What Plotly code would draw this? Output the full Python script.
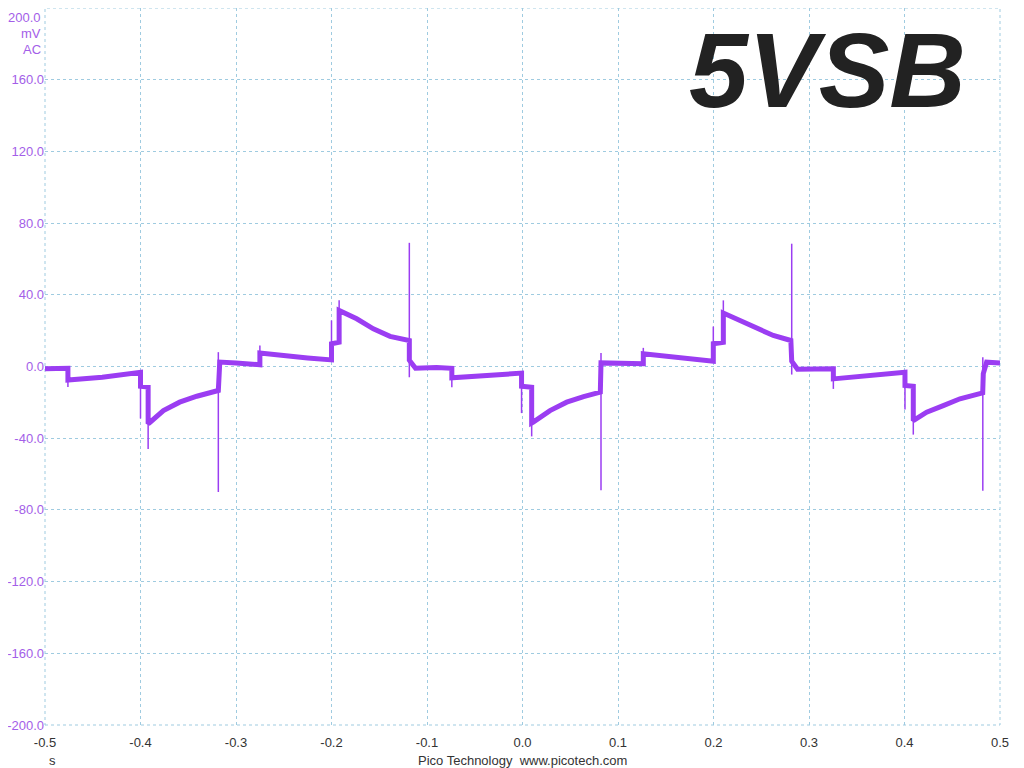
import plotly.graph_objects as go

# ---- data (time in s, voltage in mV) ----
body_t = [-0.5, -0.476, -0.476, -0.44, -0.40,
          -0.40, -0.392, -0.392, -0.390, -0.376, -0.359, -0.341, -0.3185,
          -0.317, -0.30, -0.285, -0.275,
          -0.275, -0.25, -0.225, -0.200,
          -0.200, -0.192, -0.192, -0.1736, -0.1562, -0.1387, -0.1185,
          -0.1185, -0.112, -0.09, -0.074,
          -0.074, -0.04, -0.001,
          -0.001, 0.0096, 0.0096, 0.0113, 0.0288, 0.0463, 0.064, 0.0815,
          0.0822, 0.10, 0.1265,
          0.1265, 0.15, 0.175, 0.1998,
          0.1998, 0.2103, 0.2103, 0.2277, 0.2452, 0.2626, 0.281,
          0.2819, 0.288, 0.31, 0.3255,
          0.3255, 0.36, 0.4005,
          0.4005, 0.4092, 0.4092, 0.4232, 0.4406, 0.4581, 0.4819,
          0.4825, 0.486, 0.5]
body_v = [-1.3, -1.0, -7.5, -6.0, -3.2,
          -11.0, -11.5, -32.0, -31.1, -24.6, -19.9, -16.6, -13.4,
          2.5, 2.0, 1.5, 1.0,
          7.5, 6.0, 4.8, 3.7,
          12.7, 13.5, 31.3, 26.6, 21.0, 16.8, 14.5,
          3.5, -1.0, -0.5, -1.0,
          -6.3, -5.0, -3.7,
          -11.0, -11.6, -31.5, -31.0, -24.6, -19.9, -16.8, -14.3,
          2.0, 2.0, 1.5,
          7.1, 5.8, 4.5, 3.0,
          12.7, 13.5, 29.8, 25.7, 21.0, 17.3, 14.5,
          3.0, -1.5, -1.0, -1.3,
          -6.9, -5.0, -3.2,
          -10.6, -11.0, -30.2, -25.5, -21.8, -18.0, -14.7,
          -4.0, 2.4, 2.0]

spike_t = [-0.476, -0.400, -0.392, -0.3185, -0.275, -0.200, -0.192, -0.1185,
           -0.074, -0.001, 0.0096, 0.0822, 0.1265, 0.1998, 0.2103, 0.2819,
           0.3255, 0.4005, 0.4092, 0.4820]
spike_lo = [-11.5, -29.0, -46.0, -70.0, 1.0, 3.7, 13.5, -6.0,
            -11.6, -26.0, -39.0, -69.0, 1.5, 3.0, 13.5, -4.5,
            -12.5, -24.0, -38.0, -69.3]
spike_hi = [-1.0, -3.2, -11.5, 8.0, 11.7, 25.7, 36.9, 69.0,
            -1.0, -3.7, -11.6, 7.6, 10.4, 22.3, 36.9, 68.5,
            -1.3, -3.2, -11.0, 5.2]

x_ticks = [-0.5, -0.4, -0.3, -0.2, -0.1, 0.0, 0.1, 0.2, 0.3, 0.4, 0.5]
y_ticks = [-200, -160, -120, -80, -40, 0, 40, 80, 120, 160, 200]
y_top_label = "200.0"

TRACE = "#9b3df2"
LABEL = "#a35ee8"
GRID = "#9fcbe0"

# build spike segments (None-separated vertical lines)
sx, sy = [], []
for t, lo, hi in zip(spike_t, spike_lo, spike_hi):
    sx += [t, t, None]
    sy += [lo, hi, None]

# top label drawn separately (so it is not clipped at the page edge)
y_ticktext = [f"{v:.1f}" if v != 200 else "" for v in y_ticks]

fig = go.Figure()
fig.add_trace(go.Scatter(x=body_t, y=body_v, mode="lines",
                         line=dict(color=TRACE, width=5), hoverinfo="skip"))
fig.add_trace(go.Scatter(x=sx, y=sy, mode="lines",
                         line=dict(color=TRACE, width=1.5), hoverinfo="skip"))

fig.update_layout(
    width=1016, height=760,
    margin=dict(l=37, r=24, t=0, b=43),
    paper_bgcolor="white", plot_bgcolor="white",
    showlegend=False,
    font=dict(family="Liberation Sans, Arial, sans-serif", size=13),
)
fig.update_xaxes(range=[-0.5, 0.5], tickvals=x_ticks,
                 ticktext=[f"{v:.1f}" for v in x_ticks],
                 showgrid=True, gridcolor=GRID, griddash="3px,3px", gridwidth=1,
                 zeroline=False, showline=False, ticks="", automargin=False,
                 ticklabelstandoff=8,
                 tickfont=dict(color="#333333", size=13))
fig.update_yaxes(range=[-200, 200], tickvals=y_ticks,
                 ticktext=y_ticktext,
                 showgrid=True, gridcolor=GRID, griddash="3px,3px", gridwidth=1,
                 zeroline=False, showline=False, ticks="", automargin=False,
                 ticklabelstandoff=0,
                 tickfont=dict(color=LABEL, size=13))

# dashed frame on the plot-area edges (grid lines at the range limits)
fig.add_shape(type="rect", xref="paper", yref="paper", x0=0, y0=0, x1=1, y1=1,
              line=dict(color=GRID, width=1, dash="3px,3px"), layer="below")

fig.add_annotation(text=y_top_label, xref="paper", yref="paper", x=-0.002, y=1.0,
                   xanchor="right", yanchor="top", showarrow=False,
                   font=dict(color=LABEL, size=13))
fig.add_annotation(text="mV", xref="paper", yref="paper", x=-0.002, y=0.978,
                   xanchor="right", yanchor="top", showarrow=False,
                   font=dict(color=LABEL, size=13))
fig.add_annotation(text="AC", xref="paper", yref="paper", x=-0.002, y=0.956,
                   xanchor="right", yanchor="top", showarrow=False,
                   font=dict(color=LABEL, size=13))
fig.add_annotation(text="s", xref="paper", yref="paper", x=0.002, y=-0.049,
                   xanchor="left", yanchor="middle", showarrow=False,
                   font=dict(color="#333333", size=13))
fig.add_annotation(text="Pico Technology  www.picotech.com", xref="paper", yref="paper",
                   x=0.5, y=-0.049, xanchor="center", yanchor="middle", showarrow=False,
                   font=dict(color="#333333", size=13))
fig.add_annotation(text="<b><i>5VSB</i></b>", xref="paper", yref="paper",
                   x=0.966, y=0.914, xanchor="right", yanchor="middle", showarrow=False,
                   font=dict(color="#222222", size=106, family="Liberation Sans, Arial, sans-serif"))

fig.write_html("out.html")
